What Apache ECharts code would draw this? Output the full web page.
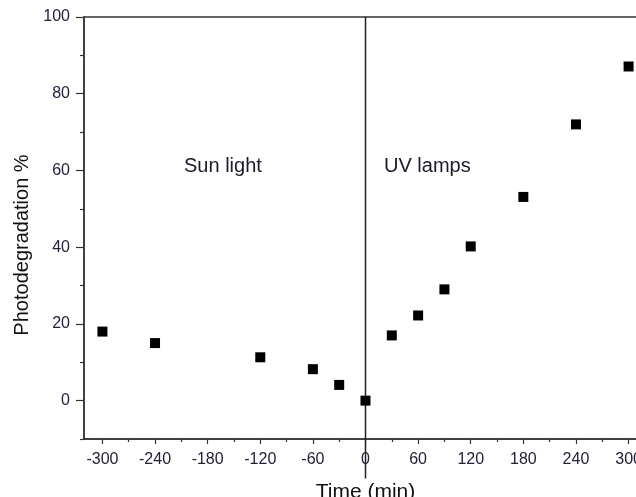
<!DOCTYPE html>
<html>
<head>
<meta charset="utf-8">
<script src="https://cdn.jsdelivr.net/npm/echarts@6/dist/echarts.min.js"></script>
<style>html,body{margin:0;padding:0;background:#fff;}#c{width:636px;height:497px;}</style>
</head>
<body>
<div id="c"></div>
<script>
const times = [-300, -240, -120, -60, -30, 0, 30, 60, 90, 120, 180, 240, 300];
const degradation = [18, 15, 11.3, 8.2, 4.1, 0, 17, 22.2, 29, 40.2, 53.1, 72, 87.1];
const xMajorTicks = [-300, -240, -180, -120, -60, 0, 60, 120, 180, 240, 300];
const xMinorTicks = [-270, -210, -150, -90, -30, 30, 90, 150, 210, 270];
const yMajorTicks = [0, 20, 40, 60, 80, 100];
const yMinorTicks = [-10, 10, 30, 50, 70, 90];
const regionNames = ['Sun light', 'UV lamps'];
const dividerTime = [0, 0];
const dividerRange = [100, -20.3];

const font = 'Liberation Sans, Arial, sans-serif';
const labelColor = '#22223a';
const xMin = -321, xMax = 321, yMin = -10, yMax = 100;

const chart = echarts.init(document.getElementById('c'));
const axisLine = { show: true, onZero: false, lineStyle: { color: '#333', width: 1.5 } };
const hiddenLine = { show: false, onZero: false };

chart.setOption({
  animation: false,
  backgroundColor: '#fff',
  grid: { left: 84, top: 17, width: 563, bottom: 58, outerBoundsMode: 'none', containLabel: false, show: true, borderColor: '#333', borderWidth: 1.5, backgroundColor: 'transparent' },
  xAxis: [
    {
      type: 'value', min: xMin, max: xMax, position: 'bottom',
      axisLine: axisLine,
      splitLine: { show: false },
      axisTick: { show: true, inside: false, length: 5, customValues: xMajorTicks, lineStyle: { color: '#333', width: 1.2 } },
      axisLabel: { show: true, customValues: xMajorTicks, color: labelColor, fontFamily: font, fontSize: 16, margin: 13 },
      name: 'Time (min)', nameLocation: 'middle', nameGap: 43,
      nameTextStyle: { color: '#111', fontFamily: font, fontSize: 21 }
    },
    {
      type: 'value', min: xMin, max: xMax, position: 'bottom',
      axisLine: hiddenLine,
      splitLine: { show: false },
      axisTick: { show: true, inside: false, length: 3, customValues: xMinorTicks, lineStyle: { color: '#333', width: 1.2 } },
      axisLabel: { show: false }
    }
  ],
  yAxis: [
    {
      type: 'value', min: yMin, max: yMax, position: 'left',
      axisLine: axisLine,
      splitLine: { show: false },
      axisTick: { show: true, inside: false, length: 8, customValues: yMajorTicks, lineStyle: { color: '#333', width: 1.2 } },
      axisLabel: { show: true, customValues: yMajorTicks, color: labelColor, fontFamily: font, fontSize: 16, margin: 14 },
      name: 'Photodegradation %', nameLocation: 'middle', nameGap: 47,
      nameTextStyle: { color: '#111', fontFamily: font, fontSize: 20, padding: [0, 34, 0, 0] }
    },
    {
      type: 'value', min: yMin, max: yMax, position: 'left',
      axisLine: hiddenLine,
      splitLine: { show: false },
      axisTick: { show: true, inside: false, length: 4, customValues: yMinorTicks, lineStyle: { color: '#333', width: 1.2 } },
      axisLabel: { show: false }
    }
  ],
  series: [
    {
      type: 'line', xAxisIndex: 0, yAxisIndex: 0,
      data: dividerTime.map((t, i) => [t, dividerRange[i]]),
      symbol: 'none', clip: false, silent: true,
      lineStyle: { color: '#222', width: 1.5 }, z: 1
    },
    {
      type: 'scatter', xAxisIndex: 0, yAxisIndex: 0,
      data: times.map((t, i) => [t, degradation[i]]),
      symbol: 'rect', symbolSize: 10,
      itemStyle: { color: '#000', opacity: 1 }, z: 3
    }
  ],
  graphic: [
    { type: 'text', left: 184, top: 156, style: { text: regionNames[0], font: '20px ' + font, fill: '#1a1a2e' } },
    { type: 'text', left: 384, top: 156, style: { text: regionNames[1], font: '20px ' + font, fill: '#1a1a2e' } }
  ]
});
</script>
</body>
</html>
